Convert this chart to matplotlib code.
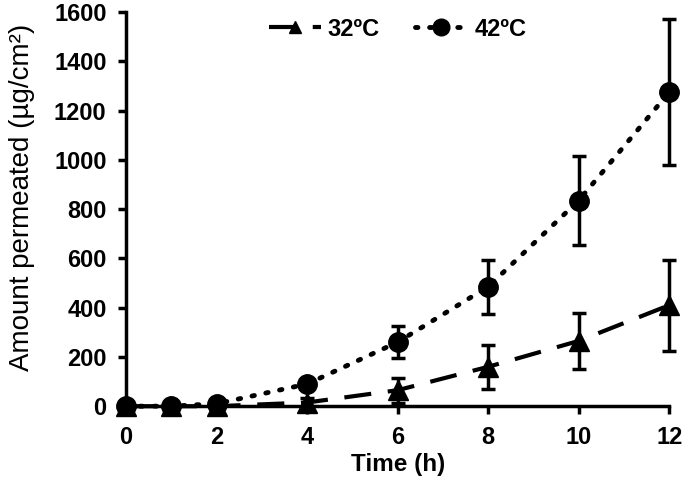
import matplotlib
matplotlib.use("Agg")
import matplotlib.pyplot as plt
from matplotlib.lines import Line2D

plt.rcParams['font.family'] = ['Liberation Sans', 'DejaVu Sans']

time_h = [0, 1, 2, 4, 6, 8, 10, 12]
amount_32 = [0, 0, 0, 15, 65, 160, 265, 410]
err_32 = [5, 5, 5, 20, 50, 90, 115, 185]
amount_42 = [0, 0, 10, 90, 260, 485, 835, 1275]
err_42 = [5, 5, 10, 20, 65, 110, 180, 295]

labels = ['32ºC', '42ºC']
x_ticks = [0, 2, 4, 6, 8, 10, 12]
y_ticks = list(range(0, 1601, 200))

dash_32 = (0, (6.5, 4))
dot_42 = (0, (0.5, 2.4))

fig = plt.figure(figsize=(6.85, 4.83), dpi=100)
ax = fig.add_axes([0.184, 0.159, 0.793, 0.816])

ax.errorbar(time_h, amount_32, yerr=err_32, color='black', linestyle=dash_32,
            linewidth=3, marker='^', markersize=14, elinewidth=2.5, capsize=5,
            capthick=2.5, clip_on=False)
ax.errorbar(time_h, amount_42, yerr=err_42, color='black', linestyle=dot_42,
            dash_capstyle='round', linewidth=3.5, marker='o', markersize=14,
            elinewidth=2.5, capsize=5, capthick=2.5, clip_on=False)

ax.set_xlim(0, 12)
ax.set_ylim(0, 1600)
ax.set_xticks(x_ticks)
ax.set_yticks(y_ticks)
for s in ['top', 'right']:
    ax.spines[s].set_visible(False)
for s in ['left', 'bottom']:
    ax.spines[s].set_linewidth(2.5)
ax.tick_params(axis='both', width=2.5, length=6, direction='out', pad=8)
for lab in ax.get_xticklabels() + ax.get_yticklabels():
    lab.set_fontsize(17)
    lab.set_fontweight('bold')

ax.set_xlabel('Time (h)', fontsize=17.5, fontweight='bold', labelpad=3)
ax.set_ylabel('Amount permeated (µg/cm²)', fontsize=20)
ax.yaxis.set_label_coords(-0.168, 0.53)

handles = [
    Line2D([], [], color='black', linestyle=dash_32, linewidth=3, marker='^', markersize=9),
    Line2D([], [], color='black', linestyle=dot_42, dash_capstyle='round', linewidth=3.5,
           marker='o', markersize=12),
]
ax.legend(handles, labels, loc='upper center', bbox_to_anchor=(0.5, 1.04), ncol=2,
          frameon=False, prop={'size': 17, 'weight': 'bold'},
          handlelength=2.2, columnspacing=1.5, handletextpad=0.3)

fig.savefig('out.png', dpi=100)
